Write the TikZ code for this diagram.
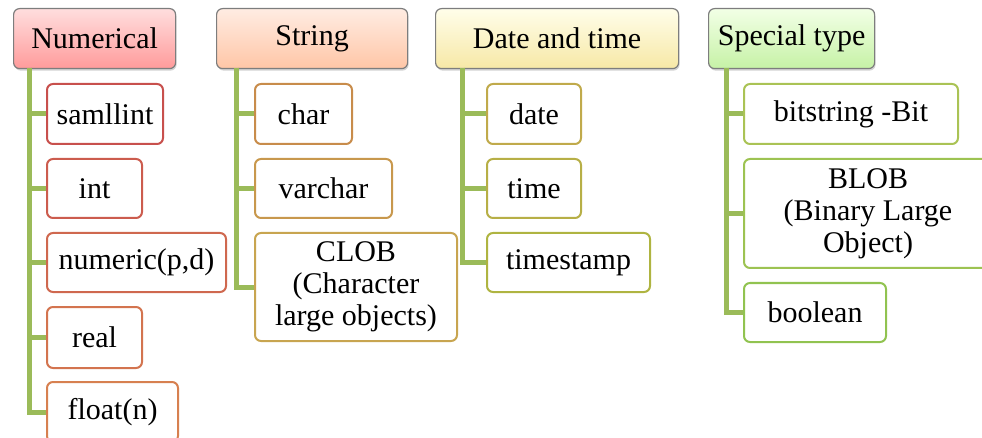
\documentclass[tikz,border=0pt]{standalone}
\usepackage{fontspec}
\setmainfont{Liberation Serif}
\usetikzlibrary{shadows}
\definecolor{branchgreen}{RGB}{155,187,89}
\definecolor{hdrline}{RGB}{125,125,125}
\definecolor{numtop}{RGB}{255,222,222}
\definecolor{numbot}{RGB}{255,155,155}
\definecolor{strtop}{RGB}{255,236,226}
\definecolor{strbot}{RGB}{255,198,166}
\definecolor{dattop}{RGB}{255,254,234}
\definecolor{datbot}{RGB}{247,232,166}
\definecolor{spetop}{RGB}{242,255,230}
\definecolor{spebot}{RGB}{198,242,166}
\definecolor{numA}{RGB}{200,80,77}
\definecolor{numB}{RGB}{215,128,80}
\definecolor{strA}{RGB}{200,140,75}
\definecolor{strB}{RGB}{200,165,80}
\definecolor{datA}{RGB}{192,170,75}
\definecolor{datB}{RGB}{175,180,65}
\definecolor{speA}{RGB}{170,195,85}
\definecolor{speB}{RGB}{145,195,80}

\tikzset{
  hdr/.style 2 args={draw=hdrline, line width=1.2pt, rounded corners=6pt,
    top color=#1, bottom color=#2, inner sep=0pt, anchor=north west,
    minimum height=60pt,
    drop shadow={opacity=0.35, shadow xshift=1pt, shadow yshift=-2pt}},
  leaf/.style={draw=#1, line width=2pt, rounded corners=6pt, fill=white,
    inner sep=0pt, anchor=north west, align=center},
  branch/.style={draw=branchgreen, line width=5pt}
}

\begin{document}
\begin{tikzpicture}[x=1pt,y=-1pt,font=\fontsize{30}{32}\selectfont]
\useasboundingbox (0,0) rectangle (982,438);
\clip (0,0) rectangle (982,438);
% headers
\node[hdr={numtop}{numbot}, minimum width=162pt] (numerical) at (13,8) {Numerical};
\node[hdr={strtop}{strbot}, minimum width=191pt] (string) at (216,8) {String};
\node[hdr={dattop}{datbot}, minimum width=243pt] (datetime) at (435,8) {Date and time};
\node[hdr={spetop}{spebot}, minimum width=166pt] (special) at (708,8) {Special type};
% trunks
\coordinate (numtrunk) at (29,68);
\coordinate (strtrunk) at (236,68);
\coordinate (dattrunk) at (462,68);
\coordinate (spetrunk) at (726,68);
% numerical
\node[leaf=numA, minimum width=116pt, minimum height=60pt] (samllint) at (46,83) {samllint};
\node[leaf=numA!75!numB, minimum width=95pt, minimum height=59pt] (int) at (46,158) {int};
\node[leaf=numA!50!numB, minimum width=179pt, minimum height=59pt] (numeric) at (46,232) {numeric(p,d)};
\node[leaf=numA!25!numB, minimum width=95pt, minimum height=61pt] (real) at (46,306) {real};
\node[leaf=numB, minimum width=131pt, minimum height=60pt] (float) at (46,381) {float(n)};
% string
\node[leaf=strA, minimum width=97pt, minimum height=60pt] (char) at (254,83) {char};
\node[leaf=strA!50!strB, minimum width=137pt, minimum height=59pt] (varchar) at (254,158) {varchar};
\node[leaf=strB, minimum width=202pt, minimum height=108pt] (clob) at (254,232) {CLOB\\(Character\\large objects)};
% date and time
\node[leaf=datA, minimum width=94pt, minimum height=60pt] (date) at (486,83) {date};
\node[leaf=datA!50!datB, minimum width=94pt, minimum height=59pt] (time) at (486,158) {time};
\node[leaf=datB, minimum width=163pt, minimum height=59pt] (timestamp) at (486,232) {timestamp};
% special type
\node[leaf=speA, minimum width=214pt, minimum height=60pt] (bitstring) at (743,83) {bitstring -Bit};
\node[leaf=speA!50!speB, minimum width=248pt, minimum height=109pt] (blob) at (743,158) {BLOB\\(Binary Large\\Object)};
\node[leaf=speB, minimum width=142pt, minimum height=59pt] (boolean) at (743,282) {boolean};
% connectors
\foreach \c in {samllint,int,numeric,real,float} \draw[branch] (numtrunk) |- (\c.west);
\foreach \c in {char,varchar,clob} \draw[branch] (strtrunk) |- (\c.west);
\foreach \c in {date,time,timestamp} \draw[branch] (dattrunk) |- (\c.west);
\foreach \c in {bitstring,blob,boolean} \draw[branch] (spetrunk) |- (\c.west);
\end{tikzpicture}
\end{document}
